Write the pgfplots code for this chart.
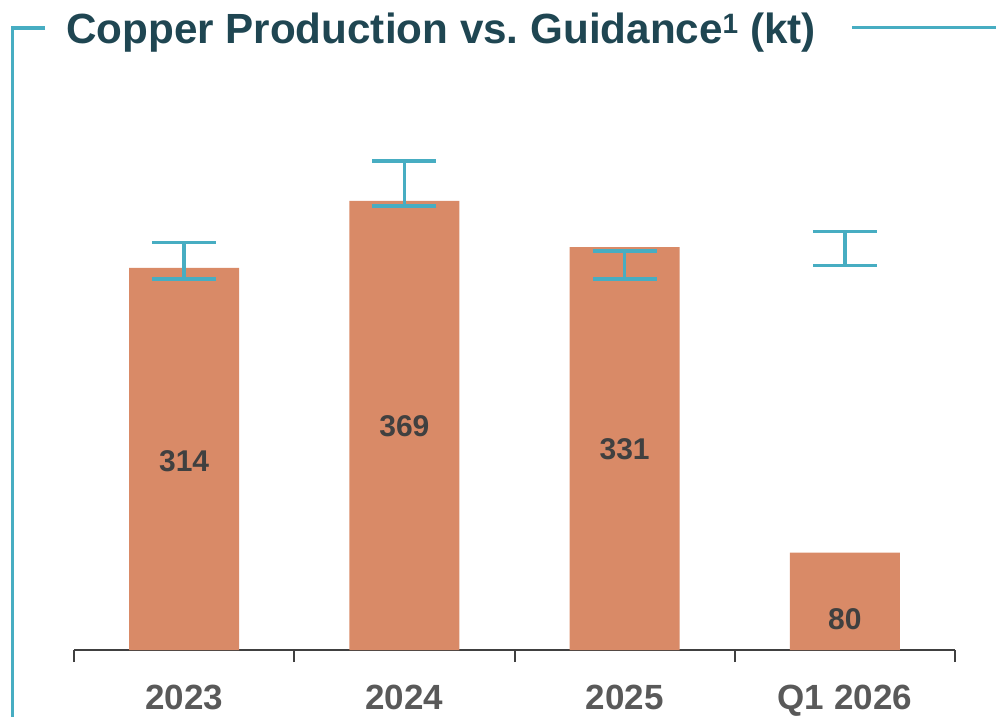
\documentclass[border=0pt]{standalone}
\usepackage{pgfplots}
\pgfplotsset{compat=1.18}
\usepackage{fontspec}
\setmainfont{Liberation Sans}
\definecolor{barc}{HTML}{D98A67}
\definecolor{guide}{HTML}{47ADC2}
\definecolor{ttl}{HTML}{1F4652}
\definecolor{tickc}{HTML}{595959}
\definecolor{val}{HTML}{404040}
\definecolor{axisc}{HTML}{404040}
\begin{document}
\frenchspacing
\begin{tikzpicture}
\useasboundingbox (0pt,0pt) rectangle (996pt,-717pt);
\draw[guide, line width=3.5pt, line join=miter] (45pt,-28.2pt) -- (12.3pt,-28.2pt) -- (12.3pt,-717pt);
\draw[guide, line width=3.3pt] (852pt,-27.8pt) -- (996pt,-27.8pt);
\node[anchor=base west, inner sep=0pt, text=ttl, font=\fontsize{42.2}{48}\selectfont\bfseries] at (66pt,-44pt) {Copper Production vs.\ Guidance\raisebox{10pt}{\fontsize{28}{28}\selectfont 1} (kt)};
\begin{axis}[
  at={(74pt,-650pt)}, anchor=south west,
  scale only axis, width=881pt, height=511.14pt,
  xmin=-0.5, xmax=3.5, ymin=0, ymax=420,
  axis y line=none, axis x line*=bottom,
  axis line style={axisc, line width=2pt},
  xtick={0,1,2,3}, xticklabels={2023,2024,2025,Q1 2026},
  minor xtick={-0.5,0.5,1.5,2.5,3.5},
  tick align=outside,
  major tick length=0pt, minor tick length=12pt,
  tick style={axisc, line width=2pt},
  xticklabel style={font=\fontsize{35}{40}\selectfont\bfseries, text=tickc, anchor=base, inner sep=0pt, yshift=-59pt},
  clip=false
]
\addplot[ybar, bar width=110pt, fill=barc, draw=none] coordinates {(0,314) (1,369) (2,331) (3,80)};
\addplot[draw=none, mark=none, forget plot,
  error bars/.cd, y dir=both, y explicit, error mark=|,
  error bar style={draw=guide, line width=3.5pt},
  error mark options={draw=guide, line width=3.5pt, mark size=32pt}]
  coordinates {(0,320) +- (0,15) (1,383.5) +- (0,18.5) (2,316.5) +- (0,11.5) (3,330) +- (0,14)};
\node[font=\fontsize{30}{36}\selectfont\bfseries, text=val, inner sep=0pt] at (axis cs:0,155.3) {314};
\node[font=\fontsize{30}{36}\selectfont\bfseries, text=val, inner sep=0pt] at (axis cs:1,184) {369};
\node[font=\fontsize{30}{36}\selectfont\bfseries, text=val, inner sep=0pt] at (axis cs:2,165.2) {331};
\node[font=\fontsize{30}{36}\selectfont\bfseries, text=val, inner sep=0pt] at (axis cs:3,25.5) {80};
\end{axis}
\end{tikzpicture}
\end{document}
